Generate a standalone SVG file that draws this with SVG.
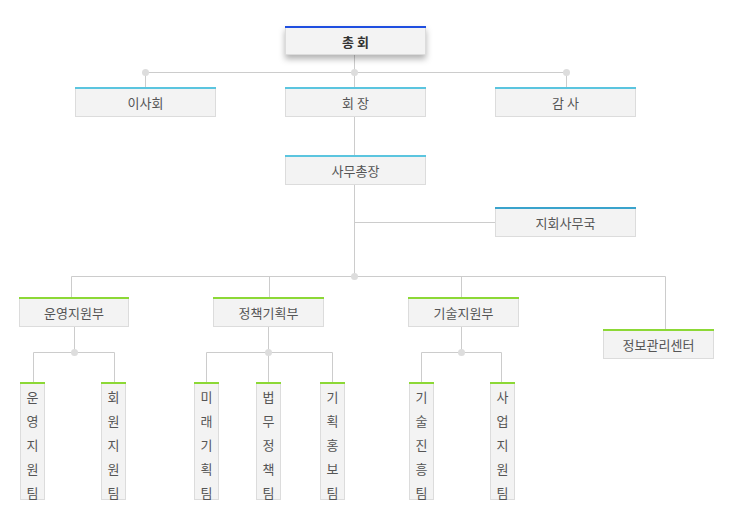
<svg xmlns="http://www.w3.org/2000/svg" width="736" height="527" viewBox="0 0 736 527">
<style>
.box{fill:#f3f3f3;stroke:#dcdcdc;stroke-width:1}
.t{font-family:"Noto Sans CJK KR","Noto Sans",sans-serif;font-size:13px;fill:#555;text-anchor:middle}
.tb{font-family:"Noto Sans CJK KR","Noto Sans",sans-serif;font-size:13px;fill:#333;font-weight:bold;text-anchor:middle}
.c{fill:none;stroke:#cccccc;stroke-width:1}
.dot{fill:#dddddd}
.blue{fill:#1f4fe0}
.cyan{fill:#5bc5df}
.sky{fill:#3aa3cc}
.green{fill:#8cd836}
</style>
<defs>
<filter id="sh" x="-20%" y="-40%" width="140%" height="200%">
<feDropShadow dx="0" dy="4" stdDeviation="3" flood-color="#000" flood-opacity="0.3"/>
</filter>
</defs>
<g id="connectors">
<path class="c" d="M145.5,72.5H566.5M145.5,72.5V87M566.5,72.5V87M354.5,55V276.5M354.5,222.5H495M71.5,276.5H665.5V329M71.5,276.5V297M269.5,276.5V297M461.5,276.5V297"/>
<path class="c" d="M74.5,327V352.5M33.5,382V352.5H114.5V382"/>
<path class="c" d="M268.5,327V382M206.5,382V352.5H332.5V382"/>
<path class="c" d="M461.5,327V352.5M421.5,382V352.5H501.5V382"/>
<circle class="dot" cx="145.5" cy="72.5" r="3.5"/>
<circle class="dot" cx="354.5" cy="72.5" r="3.5"/>
<circle class="dot" cx="566.5" cy="72.5" r="3.5"/>
<circle class="dot" cx="354.5" cy="276.5" r="3.5"/>
<circle class="dot" cx="74.5" cy="352.5" r="3.5"/>
<circle class="dot" cx="268.5" cy="352.5" r="3.5"/>
<circle class="dot" cx="461.5" cy="352.5" r="3.5"/>
</g>
<g id="n-chonghoe">
<rect class="box" x="285.5" y="26.5" width="140" height="28" filter="url(#sh)"/>
<rect class="blue" x="285" y="26" width="141" height="2"/>
<text class="tb" x="355.5" y="47">총 회</text>
</g>
<g id="n-isahoe">
<rect class="box" x="75.5" y="87.5" width="140" height="29"/>
<rect class="cyan" x="75" y="87" width="141" height="2"/>
<text class="t" x="145.5" y="108">이사회</text>
</g>
<g id="n-hoejang">
<rect class="box" x="285.5" y="87.5" width="140" height="29"/>
<rect class="cyan" x="285" y="87" width="141" height="2"/>
<text class="t" x="355.5" y="108">회 장</text>
</g>
<g id="n-gamsa">
<rect class="box" x="495.5" y="87.5" width="140" height="29"/>
<rect class="cyan" x="495" y="87" width="141" height="2"/>
<text class="t" x="565.5" y="108">감 사</text>
</g>
<g id="n-samuchongjang">
<rect class="box" x="285.5" y="155.5" width="140" height="29"/>
<rect class="cyan" x="285" y="155" width="141" height="2"/>
<text class="t" x="355.5" y="176">사무총장</text>
</g>
<g id="n-jihoe">
<rect class="box" x="495.5" y="207.5" width="140" height="29"/>
<rect class="sky" x="495" y="207" width="141" height="2"/>
<text class="t" x="565.5" y="228">지회사무국</text>
</g>
<g id="n-unyeong">
<rect class="box" x="19.5" y="297.5" width="109" height="29"/>
<rect class="green" x="19" y="297" width="110" height="2"/>
<text class="t" x="74" y="318">운영지원부</text>
</g>
<g id="n-jeongchaek">
<rect class="box" x="213.5" y="297.5" width="110" height="29"/>
<rect class="green" x="213" y="297" width="111" height="2"/>
<text class="t" x="268.5" y="318">정책기획부</text>
</g>
<g id="n-gisul">
<rect class="box" x="408.5" y="297.5" width="110" height="29"/>
<rect class="green" x="408" y="297" width="111" height="2"/>
<text class="t" x="463.5" y="318">기술지원부</text>
</g>
<g id="n-jeongbo">
<rect class="box" x="603.5" y="329.5" width="110" height="29"/>
<rect class="green" x="603" y="329" width="111" height="2"/>
<text class="t" x="658.5" y="350">정보관리센터</text>
</g>
<g id="team-unyeong">
<rect class="box" x="20.5" y="382.5" width="24" height="117"/>
<rect class="green" x="20" y="382" width="25" height="2"/>
<text class="t" x="32.5" y="402">운</text><text class="t" x="32.5" y="426">영</text><text class="t" x="32.5" y="450">지</text><text class="t" x="32.5" y="474">원</text><text class="t" x="32.5" y="498">팀</text>
</g>
<g id="team-hoewon">
<rect class="box" x="101.5" y="382.5" width="24" height="117"/>
<rect class="green" x="101" y="382" width="25" height="2"/>
<text class="t" x="113.5" y="402">회</text><text class="t" x="113.5" y="426">원</text><text class="t" x="113.5" y="450">지</text><text class="t" x="113.5" y="474">원</text><text class="t" x="113.5" y="498">팀</text>
</g>
<g id="team-mirae">
<rect class="box" x="194.5" y="382.5" width="24" height="117"/>
<rect class="green" x="194" y="382" width="25" height="2"/>
<text class="t" x="206.5" y="402">미</text><text class="t" x="206.5" y="426">래</text><text class="t" x="206.5" y="450">기</text><text class="t" x="206.5" y="474">획</text><text class="t" x="206.5" y="498">팀</text>
</g>
<g id="team-beopmu">
<rect class="box" x="256.5" y="382.5" width="24" height="117"/>
<rect class="green" x="256" y="382" width="25" height="2"/>
<text class="t" x="268.5" y="402">법</text><text class="t" x="268.5" y="426">무</text><text class="t" x="268.5" y="450">정</text><text class="t" x="268.5" y="474">책</text><text class="t" x="268.5" y="498">팀</text>
</g>
<g id="team-gihoek">
<rect class="box" x="320.5" y="382.5" width="24" height="117"/>
<rect class="green" x="320" y="382" width="25" height="2"/>
<text class="t" x="332.5" y="402">기</text><text class="t" x="332.5" y="426">획</text><text class="t" x="332.5" y="450">홍</text><text class="t" x="332.5" y="474">보</text><text class="t" x="332.5" y="498">팀</text>
</g>
<g id="team-gisul">
<rect class="box" x="409.5" y="382.5" width="24" height="117"/>
<rect class="green" x="409" y="382" width="25" height="2"/>
<text class="t" x="421.5" y="402">기</text><text class="t" x="421.5" y="426">술</text><text class="t" x="421.5" y="450">진</text><text class="t" x="421.5" y="474">흥</text><text class="t" x="421.5" y="498">팀</text>
</g>
<g id="team-saeop">
<rect class="box" x="490.5" y="382.5" width="24" height="117"/>
<rect class="green" x="490" y="382" width="25" height="2"/>
<text class="t" x="502.5" y="402">사</text><text class="t" x="502.5" y="426">업</text><text class="t" x="502.5" y="450">지</text><text class="t" x="502.5" y="474">원</text><text class="t" x="502.5" y="498">팀</text>
</g>
</svg>
